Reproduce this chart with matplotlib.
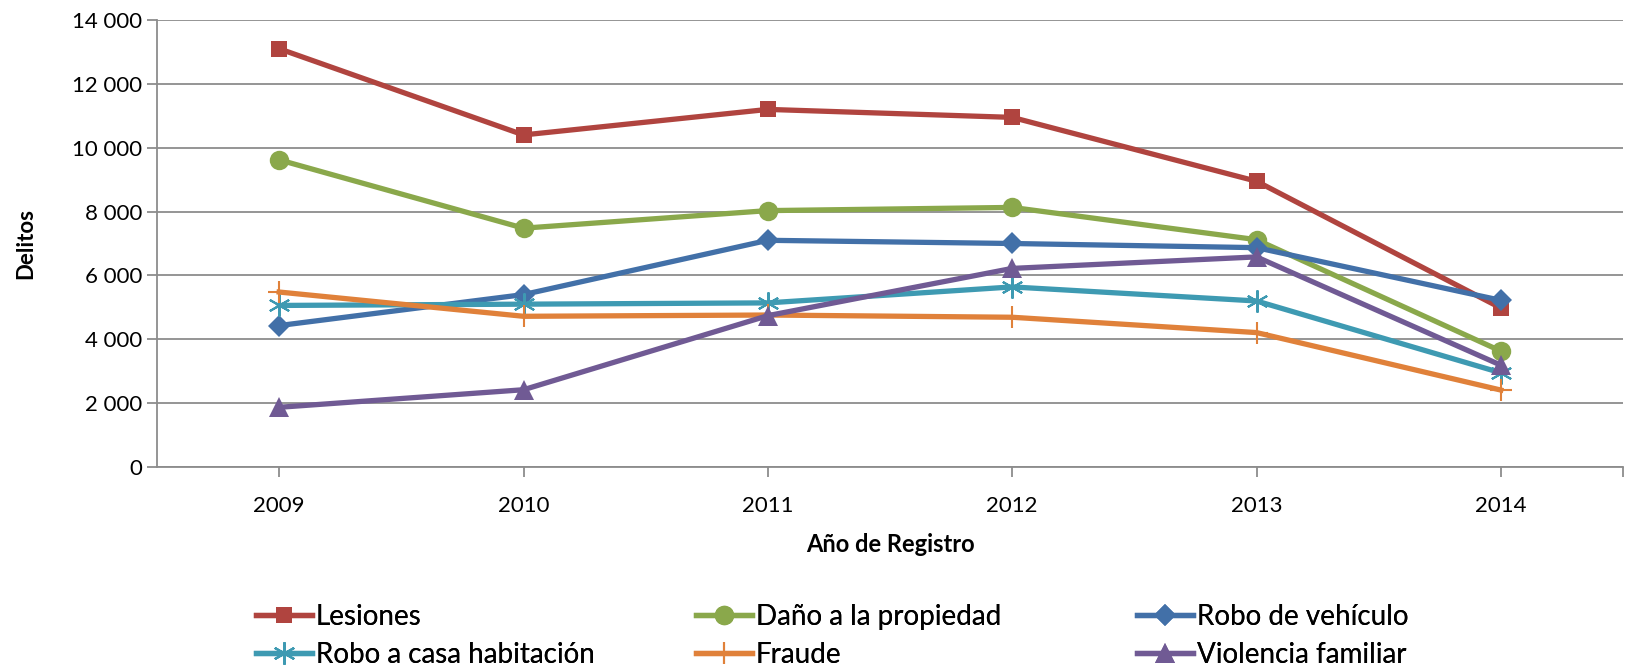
import matplotlib.pyplot as plt
from matplotlib.ticker import FuncFormatter, FixedLocator

# data
years = ['2009', '2010', '2011', '2012', '2013', '2014']
lesiones = [13100, 10400, 11200, 10950, 8950, 4980]
dano = [9620, 7480, 8030, 8130, 7120, 3630]
robo_vehiculo = [4430, 5400, 7100, 7000, 6870, 5220]
robo_casa = [5060, 5100, 5140, 5640, 5200, 2950]
fraude = [5480, 4720, 4760, 4690, 4210, 2410]
violencia = [1870, 2420, 4740, 6220, 6580, 3190]

series = [
    ('Lesiones', lesiones, '#B0443F', 's', 11, 0),
    ('Daño a la propiedad', dano, '#8AA84B', 'o', 14, 0),
    ('Robo de vehículo', robo_vehiculo, '#4270A8', 'D', 11, 0),
    ('Robo a casa habitación', robo_casa, '#3E9AB2', (6, 2, 0), 16, 1.5),
    ('Fraude', fraude, '#E0813A', '+', 16, 1.5),
    ('Violencia familiar', violencia, '#705A94', '^', 14, 0),
]

plt.rcParams['font.family'] = ['Lato', 'DejaVu Sans']

fig = plt.figure(figsize=(16.27, 6.67), dpi=100)
ax = fig.add_axes([157/1627, 1 - 467/667, (1623-157)/1627, (467-20)/667])

x = range(len(years))
handles = []
for name, vals, col, mk, ms, mew in series:
    h, = ax.plot(x, vals, color=col, lw=3.8, marker=mk, markersize=ms,
                 markeredgewidth=mew, markeredgecolor=col, markerfacecolor=col,
                 label=name, zorder=3)
    handles.append(h)

grid_col = '#8C8C8C'
ax.set_xlim(-0.5, 5.5)
ax.set_ylim(0, 14000)
ax.set_yticks(range(0, 14001, 2000))
ax.yaxis.set_major_formatter(FuncFormatter(lambda v, p: f'{int(v):,}'.replace(',', ' ')))
ax.set_xticks(list(x))
ax.set_xticklabels(years)
ax.xaxis.set_minor_locator(FixedLocator([5.5]))
ax.grid(axis='y', color=grid_col, lw=1.3)
ax.set_axisbelow(True)
for s in ['top', 'right']:
    ax.spines[s].set_visible(False)
for s in ['left', 'bottom']:
    ax.spines[s].set_color(grid_col)
    ax.spines[s].set_linewidth(1.3)
ax.tick_params(axis='both', which='both', color=grid_col, width=1.3, length=7,
               labelsize=16)
ax.tick_params(axis='x', pad=14)

ax.set_ylabel('Delitos', fontsize=16, fontweight='bold', labelpad=26)
ax.set_xlabel('Año de Registro', fontsize=17, fontweight='bold', labelpad=12)

# three legend columns placed at fixed x positions, two rows each
col_x = [256, 696, 1137]
for i, cx in enumerate(col_x):
    pair = [handles[i], handles[i + 3]]
    leg = fig.legend(pair, [h.get_label() for h in pair], loc='upper left',
                     bbox_to_anchor=(cx / 1627, 1 - 604 / 667),
                     frameon=False, fontsize=20, handlelength=2.0,
                     handletextpad=0.15, labelspacing=0.42,
                     borderpad=0, borderaxespad=0)
    fig.add_artist(leg)

fig.savefig('out.png', dpi=100)
